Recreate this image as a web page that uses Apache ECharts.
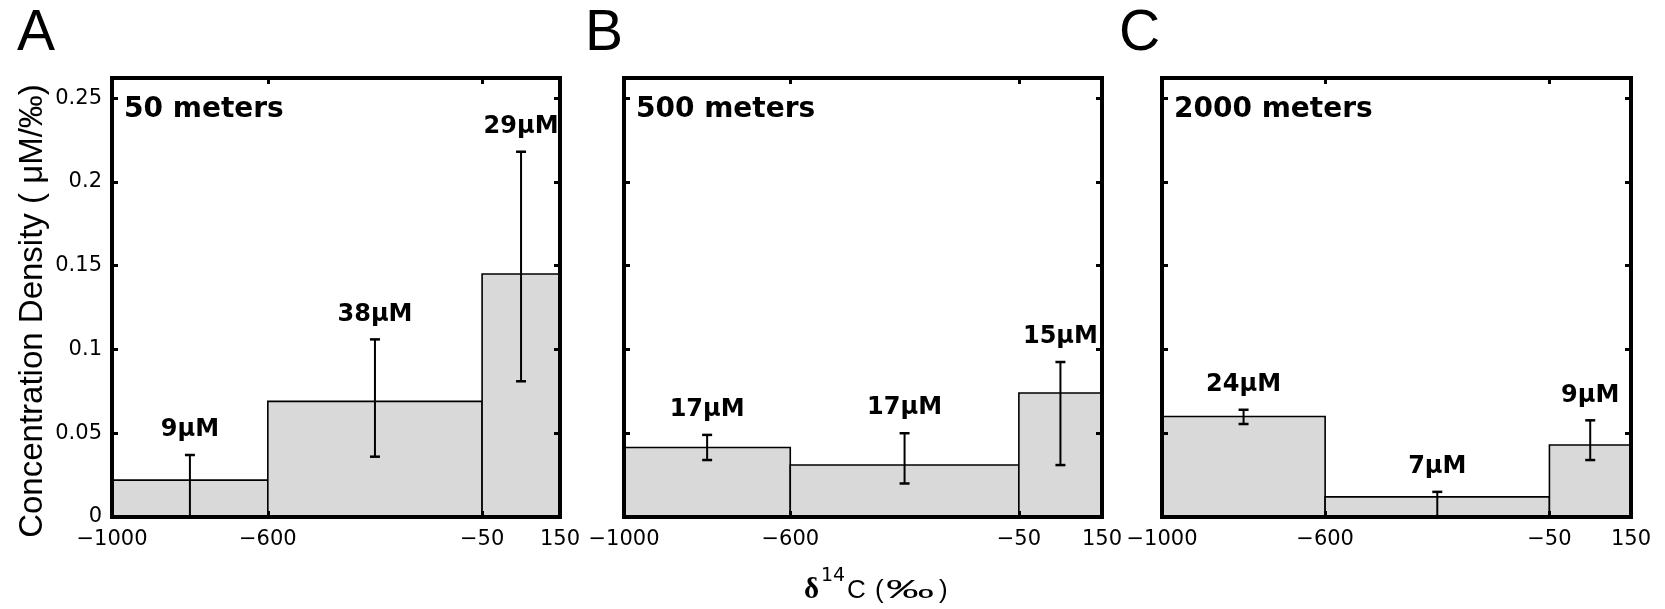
<!DOCTYPE html>
<html>
<head>
<meta charset="utf-8">
<script src="https://cdn.jsdelivr.net/npm/echarts@6/dist/echarts.min.js"></script>
<style>
html,body{margin:0;padding:0;background:#fff;}
#chart{width:1665px;height:609px;}
</style>
</head>
<body>
<div id="chart"></div>
<script>
// ---- data ----
const binEdges = [-1000, -600, -50, 150];
const xTicks = [-1000, -600, -50, 150];
const yTicks = [0, 0.05, 0.1, 0.15, 0.2, 0.25];
const yMax = 0.262;
const panelLetters = ['A', 'B', 'C'];
const depthLabels = ['50 meters', '500 meters', '2000 meters'];

const density50m = [0.022, 0.069, 0.145];
const errLow50m = [0, 0.036, 0.081];
const errHigh50m = [0.037, 0.106, 0.218];
const conc50m = ['9μM', '38μM', '29μM'];

const density500m = [0.0415, 0.031, 0.074];
const errLow500m = [0.034, 0.020, 0.031];
const errHigh500m = [0.049, 0.050, 0.0925];
const conc500m = ['17μM', '17μM', '15μM'];

const density2000m = [0.060, 0.012, 0.043];
const errLow2000m = [0.0555, 0, 0.034];
const errHigh2000m = [0.064, 0.015, 0.0577];
const conc2000m = ['24μM', '7μM', '9μM'];

const yTitle = 'Concentration Density ( μM/‰)';

// ---- layout ----
const gridLeft = [112, 624, 1162];
const gridWidth = [448, 478, 469];
const gridTop = 78, gridHeight = 439;

const panels = [
  {dens: density50m, lo: errLow50m, hi: errHigh50m, lab: conc50m},
  {dens: density500m, lo: errLow500m, hi: errHigh500m, lab: conc500m},
  {dens: density2000m, lo: errLow2000m, hi: errHigh2000m, lab: conc2000m}
];

const chart = echarts.init(document.getElementById('chart'), null, {renderer: 'canvas'});

const tickStyle = {show: true, inside: true, length: 6, lineStyle: {color: '#000', width: 3}};
const noLine = {show: false, onZero: false};
const minusFmt = v => (v < 0 ? '\u2212' + Math.abs(v) : String(v));

const grids = [], xAxes = [], yAxes = [], series = [], graphics = [];

panels.forEach((p, i) => {
  grids.push({left: gridLeft[i], top: gridTop, width: gridWidth[i], height: gridHeight,
    show: true, borderColor: '#000', borderWidth: 4, backgroundColor: 'transparent', z: 10});
  xAxes.push({type: 'value', gridIndex: i, position: 'bottom', min: binEdges[0], max: binEdges[binEdges.length - 1], z: 11,
    axisLine: noLine, splitLine: {show: false},
    axisTick: Object.assign({customValues: xTicks}, tickStyle),
    axisLabel: {customValues: xTicks, formatter: minusFmt, margin: 12, color: '#000',
      fontSize: 21, fontFamily: 'DejaVu Sans'}});
  xAxes.push({type: 'value', gridIndex: i, position: 'top', min: binEdges[0], max: binEdges[binEdges.length - 1], z: 11,
    axisLine: noLine, splitLine: {show: false},
    axisTick: Object.assign({customValues: xTicks}, tickStyle),
    axisLabel: {show: false}});
  yAxes.push({type: 'value', gridIndex: i, position: 'left', min: 0, max: yMax, z: 11,
    axisLine: noLine, splitLine: {show: false},
    axisTick: Object.assign({customValues: yTicks}, tickStyle),
    axisLabel: {show: i === 0, customValues: yTicks, margin: 10, color: '#000',
      fontSize: 21, fontFamily: 'DejaVu Sans'}});
  yAxes.push({type: 'value', gridIndex: i, position: 'right', min: 0, max: yMax, z: 11,
    axisLine: noLine, splitLine: {show: false},
    axisTick: Object.assign({customValues: yTicks}, tickStyle),
    axisLabel: {show: false}});

  series.push({
    type: 'custom', xAxisIndex: 2 * i, yAxisIndex: 2 * i, z: 2, silent: true,
    data: p.dens.map((h, k) => [binEdges[k], binEdges[k + 1], h]),
    encode: {x: [0, 1], y: 2},
    renderItem: function (params, api) {
      const a = api.coord([api.value(0), api.value(2)]);
      const b = api.coord([api.value(1), 0]);
      return {type: 'rect', shape: {x: a[0], y: a[1], width: b[0] - a[0], height: b[1] - a[1]},
        style: {fill: '#d9d9d9', stroke: '#000', lineWidth: 1.6}};
    }
  });

  series.push({
    type: 'custom', xAxisIndex: 2 * i, yAxisIndex: 2 * i, z: 3, silent: true,
    data: p.lo.map((l, k) => [(binEdges[k] + binEdges[k + 1]) / 2, l, p.hi[k]]),
    encode: {x: 0, y: [1, 2]},
    renderItem: function (params, api) {
      const x = api.value(0);
      const t = api.coord([x, api.value(2)]);
      const b = api.coord([x, api.value(1)]);
      const cap = 5;
      return {type: 'group', children: [
        {type: 'line', shape: {x1: t[0], y1: t[1], x2: b[0], y2: b[1]}, style: {stroke: '#000', lineWidth: 2}},
        {type: 'line', shape: {x1: t[0] - cap, y1: t[1], x2: t[0] + cap, y2: t[1]}, style: {stroke: '#000', lineWidth: 2.5}},
        {type: 'line', shape: {x1: b[0] - cap, y1: b[1], x2: b[0] + cap, y2: b[1]}, style: {stroke: '#000', lineWidth: 2.5}},
        {type: 'text', x: t[0], y: t[1] - 25,
          style: {text: p.lab[params.dataIndex], font: 'bold 24px "DejaVu Sans"', fill: '#000',
            align: 'center', verticalAlign: 'middle'}}
      ]};
    }
  });

  graphics.push({type: 'text', x: gridLeft[i] + 12, y: 110, z: 20,
    style: {text: depthLabels[i], font: 'bold 28px "DejaVu Sans"', fill: '#000', align: 'left', verticalAlign: 'middle'}});
});

const letterX = [17, 585, 1119];
panelLetters.forEach((L, i) => {
  graphics.push({type: 'text', x: letterX[i], y: 34,
    style: {text: L, font: '57px "Liberation Sans"', fill: '#000', align: 'left', verticalAlign: 'middle'}});
});

// y axis title
graphics.push({type: 'text', x: 33, y: 311, rotation: Math.PI / 2,
  style: {text: yTitle, font: '33px "Liberation Sans"', fill: '#000', align: 'center', verticalAlign: 'middle'}});

// x axis title pieces
const xtY = 591;
graphics.push({type: 'text', x: 804, y: xtY,
  style: {text: 'δ', font: 'bold 29px "Liberation Serif"', fill: '#000', align: 'left', verticalAlign: 'middle'}});
graphics.push({type: 'text', x: 821, y: xtY - 15,
  style: {text: '14', font: '19px "DejaVu Sans"', fill: '#000', align: 'left', verticalAlign: 'middle'}});
graphics.push({type: 'text', x: 847, y: xtY,
  style: {text: 'C', font: '26px "Liberation Sans"', fill: '#000', align: 'left', verticalAlign: 'middle'}});
graphics.push({type: 'text', x: 875, y: xtY,
  style: {text: '(', font: '26px "Liberation Sans"', fill: '#000', align: 'left', verticalAlign: 'middle'}});
graphics.push({type: 'text', x: 886, y: xtY, scaleX: 1.85,
  style: {text: '‰', font: '26px "Liberation Sans"', fill: '#000', align: 'left', verticalAlign: 'middle'}});
graphics.push({type: 'text', x: 939, y: xtY,
  style: {text: ')', font: '26px "Liberation Sans"', fill: '#000', align: 'left', verticalAlign: 'middle'}});

chart.setOption({
  animation: false,
  backgroundColor: '#fff',
  grid: grids,
  xAxis: xAxes,
  yAxis: yAxes,
  series: series,
  graphic: graphics
});
</script>
</body>
</html>
